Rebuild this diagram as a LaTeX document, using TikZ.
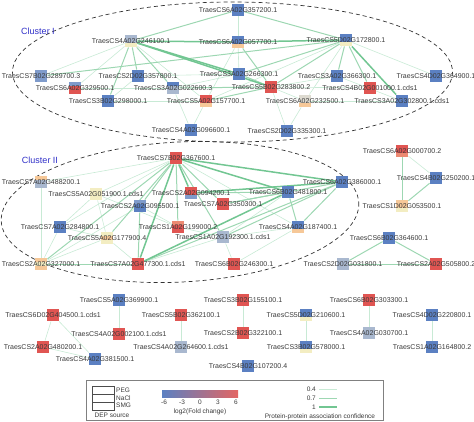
\documentclass[tikz,border=0pt]{standalone}
\usepackage{fontspec}
\setmainfont{Liberation Sans}
\usetikzlibrary{backgrounds}
\definecolor{b3}{HTML}{5B80C2}
\definecolor{b2}{HTML}{7F9BCB}
\definecolor{b1}{HTML}{A9B8CF}
\definecolor{g0}{HTML}{DDDAD0}
\definecolor{y0}{HTML}{F3EDC2}
\definecolor{o1}{HTML}{F6C898}
\definecolor{r2}{HTML}{EC8A72}
\definecolor{r3}{HTML}{E05552}
\definecolor{lbltext}{HTML}{3A3A3A}
\definecolor{clus}{HTML}{3030C8}
\definecolor{ppi4}{HTML}{C8EAD5}
\definecolor{ppi7}{HTML}{9DD7B2}
\definecolor{ppi1}{HTML}{72C692}
\tikzset{
  sq/.style={rectangle,minimum size=12.5pt,inner sep=0pt},
  dep/.style n args={3}{sq,path picture={
    \fill[#1] (path picture bounding box.north west) rectangle ([yshift=-4.2pt]path picture bounding box.north east);
    \fill[#2] ([yshift=-4.2pt]path picture bounding box.north west) rectangle ([yshift=4.2pt]path picture bounding box.south east);
    \fill[#3] ([yshift=4.2pt]path picture bounding box.south west) rectangle (path picture bounding box.south east);}},
  lbl/.style={font=\fontsize{7}{8}\selectfont,text=lbltext,inner sep=0pt},
  legtext/.style={font=\fontsize{6.5}{7.5}\selectfont,text=lbltext,inner sep=0pt},
  cluster/.style={draw=black!80,dash pattern=on 4pt off 3pt,line width=0.7pt},
  clusname/.style={font=\fontsize{9}{10}\selectfont,text=clus,inner sep=0pt},
  e4/.style={color=ppi4,line width=0.6pt},
  e7/.style={color=ppi7,line width=1pt},
  e1/.style={color=ppi1,line width=1.5pt},
}
\begin{document}
\begin{tikzpicture}[x=1pt,y=-1pt]
  \useasboundingbox (0,0) rectangle (474,421);
  % clusters
  \draw[cluster] (232.5,72) ellipse [x radius=220,y radius=70];
  \draw[cluster,rotate around={3:(180,212)}] (180,212) ellipse [x radius=179,y radius=70];
  \node[clusname] (ci)  at (38,31)  {Cluster I};
  \node[clusname] (cii) at (40,160) {Cluster II};

  % cluster I
  \node[dep={b3}{b3}{b3}] (n357200) at (238,10)  {};
  \node[dep={b3}{b3}{o1}] (n057700) at (238,42)  {};
  \node[dep={b1}{b1}{y0}] (n246100) at (131,41)  {};
  \node[dep={b3}{b3}{y0}] (n172800) at (346,40)  {};
  \node[dep={b2}{b2}{b2}] (n289700) at (41,76)   {};
  \node[dep={b3}{b3}{b3}] (n357800) at (138,76)  {};
  \node[dep={b3}{b3}{b3}] (n266300) at (239,74)  {};
  \node[dep={b3}{b3}{b3}] (n366300) at (337,76)  {};
  \node[dep={b3}{b3}{b3}] (n364900) at (436,76)  {};
  \node[dep={b2}{r3}{r3}] (n329500) at (75,88)   {};
  \node[dep={b3}{b1}{b1}] (n022600) at (173,88)  {};
  \node[dep={r3}{r3}{r3}] (n283800) at (271,87)  {};
  \node[dep={r3}{r3}{r3}] (n001000) at (370,88)  {};
  \node[dep={b3}{b3}{b3}] (n298000) at (108,101) {};
  \node[dep={r3}{r3}{o1}] (n157700) at (206,101) {};
  \node[dep={g0}{g0}{o1}] (n232500) at (305,101) {};
  \node[dep={b3}{b3}{b3}] (n302800) at (402,101) {};
  \node[dep={b3}{b3}{b3}] (n096600) at (191,130) {};
  \node[dep={b3}{b3}{b3}] (n335300) at (287,131) {};

  % cluster II
  \node[dep={r3}{r3}{r3}] (n367600) at (176,158) {};
  \node[dep={o1}{b1}{b1}] (n488200) at (41,182)  {};
  \node[dep={y0}{y0}{y0}] (n051900) at (96,194)  {};
  \node[dep={r3}{r3}{b2}] (n094200) at (191,193) {};
  \node[dep={b2}{b3}{b3}] (n095500) at (140,206) {};
  \node[dep={r3}{r3}{r3}] (n350300) at (223,204) {};
  \node[dep={b3}{b3}{b3}] (n386000) at (342,182) {};
  \node[dep={b3}{b3}{b3}] (n481800) at (288,192) {};
  \node[dep={b3}{b3}{b3}] (n284800) at (60,227)  {};
  \node[dep={r2}{r3}{r3}] (n199000) at (178,227) {};
  \node[dep={b3}{b3}{o1}] (n187400) at (298,227) {};
  \node[dep={y0}{o1}{y0}] (n177900) at (107,238) {};
  \node[dep={b1}{b1}{b1}] (n192300) at (223,237) {};
  \node[dep={o1}{y0}{o1}] (n327000) at (41,264)  {};
  \node[dep={r3}{r3}{r3}] (n477300) at (138,264) {};
  \node[dep={r3}{r3}{r3}] (n246300) at (234,264) {};

  % small groups
  \node[dep={r3}{r3}{r2}] (n000700) at (402,151) {};
  \node[dep={b3}{b3}{b3}] (n250200) at (436,178) {};
  \node[dep={o1}{o1}{y0}] (n053500) at (402,206) {};
  \node[dep={b3}{b3}{b3}] (n364600) at (389,238) {};
  \node[dep={b1}{b1}{b1}] (n031800) at (343,264) {};
  \node[dep={r3}{r3}{r3}] (n505800) at (436,264) {};
  \node[dep={b3}{b3}{b3}] (n369900) at (119,300) {};
  \node[dep={r3}{r3}{r3}] (n002100) at (119,334) {};
  \node[dep={r3}{r3}{r3}] (n404500) at (53,315)  {};
  \node[dep={r3}{r3}{r3}] (n480200) at (43,347)  {};
  \node[dep={b3}{b3}{b3}] (n381500) at (95,359)  {};
  \node[dep={r3}{r3}{r3}] (n362100) at (181,315) {};
  \node[dep={b1}{b1}{b1}] (n264600) at (181,347) {};
  \node[dep={r3}{r3}{r3}] (n155100) at (243,300) {};
  \node[dep={r3}{r3}{r3}] (n322100) at (243,333) {};
  \node[dep={b3}{b3}{y0}] (n210600) at (306,315) {};
  \node[dep={b3}{b3}{y0}] (n578000) at (306,347) {};
  \node[dep={r3}{r3}{r3}] (n303300) at (369,300) {};
  \node[dep={b1}{b1}{b1}] (n030700) at (369,333) {};
  \node[dep={b3}{b3}{b3}] (n220800) at (432,315) {};
  \node[dep={b3}{b3}{b3}] (n164800) at (432,347) {};
  \node[dep={b3}{b3}{b3}] (n107200) at (248,366) {};

  % labels
  \node[lbl] (t357200) at (n357200) {TraesCS6A02G357200.1};
  \node[lbl] (t057700) at (n057700) {TraesCS6A02G057700.1};
  \node[lbl] (t246100) at (n246100) {TraesCS4A02G246100.1};
  \node[lbl] (t172800) at (n172800) {TraesCS5D02G172800.1};
  \node[lbl] (t289700) at (n289700) {TraesCS7B02G289700.3};
  \node[lbl] (t357800) at (n357800) {TraesCS2D02G357800.1};
  \node[lbl] (t266300) at (n266300) {TraesCS3A02G266300.1};
  \node[lbl] (t366300) at (n366300) {TraesCS3A02G366300.1};
  \node[lbl] (t364900) at (n364900) {TraesCS4D02G364900.1};
  \node[lbl] (t329500) at (n329500) {TraesCS6A02G329500.1};
  \node[lbl] (t022600) at (n022600) {TraesCS3A02G022600.3};
  \node[lbl] (t283800) at (n283800) {TraesCS5B02G283800.2};
  \node[lbl] (t001000) at (n001000) {TraesCS4B02G001000.1.cds1};
  \node[lbl] (t298000) at (n298000) {TraesCS3B02G298000.1};
  \node[lbl] (t157700) at (n157700) {TraesCS5A02G157700.1};
  \node[lbl] (t232500) at (n232500) {TraesCS6A02G232500.1};
  \node[lbl] (t302800) at (n302800) {TraesCS3A02G302800.1.cds1};
  \node[lbl] (t096600) at (n096600) {TraesCS4A02G096600.1};
  \node[lbl] (t335300) at (n335300) {TraesCS2D02G335300.1};
  \node[lbl] (t367600) at (n367600) {TraesCS7B02G367600.1};
  \node[lbl] (t488200) at (n488200) {TraesCS7A02G488200.1};
  \node[lbl] (t051900) at (n051900) {TraesCS5A02G051900.1.cds1};
  \node[lbl] (t094200) at (n094200) {TraesCS2A02G094200.1};
  \node[lbl] (t095500) at (n095500) {TraesCS2A02G095500.1};
  \node[lbl] (t350300) at (n350300) {TraesCS7A02G350300.1};
  \node[lbl] (t386000) at (n386000) {TraesCS6A02G386000.1};
  \node[lbl] (t481800) at (n481800) {TraesCS6B02G481800.1};
  \node[lbl] (t284800) at (n284800) {TraesCS7A02G284800.1};
  \node[lbl] (t199000) at (n199000) {TraesCS1A02G199000.2};
  \node[lbl] (t187400) at (n187400) {TraesCS4A02G187400.1};
  \node[lbl] (t177900) at (n177900) {TraesCS5A02G177900.4};
  \node[lbl] (t192300) at (n192300) {TraesCS1A02G192300.1.cds1};
  \node[lbl] (t327000) at (n327000) {TraesCS2A02G327000.1};
  \node[lbl] (t477300) at (n477300) {TraesCS7A02G477300.1.cds1};
  \node[lbl] (t246300) at (n246300) {TraesCS6B02G246300.1};
  \node[lbl] (t000700) at (n000700) {TraesCS6A02G000700.2};
  \node[lbl] (t250200) at (n250200) {TraesCS4B02G250200.1};
  \node[lbl] (t053500) at (n053500) {TraesCS1D02G053500.1};
  \node[lbl] (t364600) at (n364600) {TraesCS6B02G364600.1};
  \node[lbl] (t031800) at (n031800) {TraesCS2D02G031800.1};
  \node[lbl] (t505800) at (n505800) {TraesCS2A02G505800.2};
  \node[lbl] (t369900) at (n369900) {TraesCS5A02G369900.1};
  \node[lbl] (t002100) at (n002100) {TraesCS4A02G002100.1.cds1};
  \node[lbl] (t404500) at (n404500) {TraesCS6D02G404500.1.cds1};
  \node[lbl] (t480200) at (n480200) {TraesCS2A02G480200.1};
  \node[lbl] (t381500) at (n381500) {TraesCS4A02G381500.1};
  \node[lbl] (t362100) at (n362100) {TraesCS5B02G362100.1};
  \node[lbl] (t264600) at (n264600) {TraesCS4A02G264600.1.cds1};
  \node[lbl] (t155100) at (n155100) {TraesCS3B02G155100.1};
  \node[lbl] (t322100) at (n322100) {TraesCS2B02G322100.1};
  \node[lbl] (t210600) at (n210600) {TraesCS5D02G210600.1};
  \node[lbl] (t578000) at (n578000) {TraesCS3B02G578000.1};
  \node[lbl] (t303300) at (n303300) {TraesCS6B02G303300.1};
  \node[lbl] (t030700) at (n030700) {TraesCS4A02G030700.1};
  \node[lbl] (t220800) at (n220800) {TraesCS4D02G220800.1};
  \node[lbl] (t164800) at (n164800) {TraesCS1A02G164800.2};
  \node[lbl] (t107200) at (n107200) {TraesCS4B02G107200.4};

  % interactions
  \begin{pgfonlayer}{background}
  \path[e4]
    (n172800) edge (n364900)  (n246100) edge (n289700)  (n246100) edge (n329500)
    (n357200) edge (n057700)  (n357800) edge (n266300)  (n329500) edge (n022600)
    (n298000) edge (n157700)  (n157700) edge (n096600)  (n022600) edge (n096600)
    (n232500) edge (n335300)  (n283800) edge (n335300)  (n172800) edge (n232500)
    (n057700) edge (n266300)  (n057700) edge (n157700)  (n266300) edge (n232500)
    (n366300) edge (n283800)  (n001000) edge (n283800)  (n302800) edge (n232500)
    (n246100) edge (n157700)  (n022600) edge (n266300)  (n357800) edge (n298000)
    (n172800) edge (n157700)  (n366300) edge (n302800)
    (n367600) edge (n488200)  (n367600) edge (n051900)  (n367600) edge (n284800)
    (n367600) edge (n187400)  (n488200) edge (n327000)  (n051900) edge (n177900)
    (n051900) edge (n199000)  (n095500) edge (n327000)  (n095500) edge (n199000)
    (n284800) edge (n177900)  (n284800) edge (n327000)  (n177900) edge (n327000)
    (n177900) edge (n477300)  (n199000) edge (n192300)  (n192300) edge (n246300)
    (n187400) edge (n192300)  (n187400) edge (n246300)  (n481800) edge (n192300)
    (n477300) edge (n192300)  (n051900) edge (n284800)
    (n000700) edge (n250200)  (n369900) edge (n002100)  (n404500) edge (n480200)
    (n404500) edge (n381500)  (n480200) edge (n381500)  (n362100) edge (n264600)
    (n155100) edge (n322100)  (n210600) edge (n578000)  (n303300) edge (n030700)
    (n220800) edge (n164800);
  \path[e7]
    (n357200) edge (n172800)  (n246100) edge (n298000)  (n246100) edge (n357800)
    (n246100) edge (n022600)  (n172800) edge (n366300)  (n172800) edge (n001000)
    (n172800) edge (n266300)  (n172800) edge (n283800)  (n266300) edge (n283800)
    (n022600) edge (n283800)  (n157700) edge (n283800)  (n289700) edge (n172800)
    (n057700) edge (n283800)  (n357200) edge (n246100)
    (n367600) edge (n095500)  (n367600) edge (n177900)  (n367600) edge (n327000)
    (n367600) edge (n350300)  (n367600) edge (n199000)  (n367600) edge (n192300)
    (n386000) edge (n350300)  (n386000) edge (n192300)  (n386000) edge (n477300)
    (n481800) edge (n094200)  (n481800) edge (n350300)  (n327000) edge (n477300)
    (n095500) edge (n477300)  (n386000) edge (n187400)  (n481800) edge (n187400)
    (n000700) edge (n053500)  (n250200) edge (n053500)  (n364600) edge (n031800)
    (n364600) edge (n505800)  (n031800) edge (n505800);
  \path[e1]
    (n246100) edge (n057700)  (n057700) edge (n172800)  (n246100) edge (n266300)
    (n246100) edge (n283800)  (n172800) edge (n302800)
    (n367600) edge (n386000)  (n367600) edge (n481800)  (n367600) edge (n477300)
    (n367600) edge (n094200)  (n386000) edge (n094200)  (n481800) edge (n477300);
  \end{pgfonlayer}

  % legend
  \draw[black!50,line width=0.6pt] (86,380) rectangle (383,420.5);
  \node[draw=black!70,line width=0.4pt,minimum width=22pt,minimum height=8pt,inner sep=0pt] (peg)  at (103,390.5) {};
  \node[draw=black!70,line width=0.4pt,minimum width=22pt,minimum height=8pt,inner sep=0pt] (nacl) at (103,398.5) {};
  \node[draw=black!70,line width=0.4pt,minimum width=22pt,minimum height=8pt,inner sep=0pt] (smg)  at (103,406.5) {};
  \node[legtext,anchor=west] (tpeg)  at (116,390.5) {PEG};
  \node[legtext,anchor=west] (tnacl) at (116,398) {NaCl};
  \node[legtext,anchor=west] (tsmg)  at (116,405.5) {SMG};
  \node[legtext] (tsrc) at (112,415.5) {DEP source};
  \shade[left color=b3,middle color=y0!70!white,right color=r3!90!white] (162,390) rectangle (238,397.5);
  \node[legtext] (m6) at (164,402.5) {-6};
  \node[legtext] (m3) at (182,402.5) {-3};
  \node[legtext] (z0) at (200,402.5) {0};
  \node[legtext] (p3) at (218,402.5) {3};
  \node[legtext] (p6) at (236,402.5) {6};
  \node[legtext] (tfc) at (200,412) {log2(Fold change)};
  \node[legtext,anchor=east] (w4) at (316,389) {0.4};
  \node[legtext,anchor=east] (w7) at (316,398) {0.7};
  \node[legtext,anchor=east] (w1) at (316,407) {1};
  \coordinate (a4) at (319,389);  \coordinate (b4) at (337,389);
  \coordinate (a7) at (319,398);  \coordinate (b7) at (337,398);
  \coordinate (a1) at (319,407);  \coordinate (b1) at (337,407);
  \draw[e4] (a4) -- (b4);
  \draw[e7] (a7) -- (b7);
  \draw[e1] (a1) -- (b1);
  \node[legtext] (tconf) at (320,417) {Protein-protein association confidence};
\end{tikzpicture}
\end{document}
